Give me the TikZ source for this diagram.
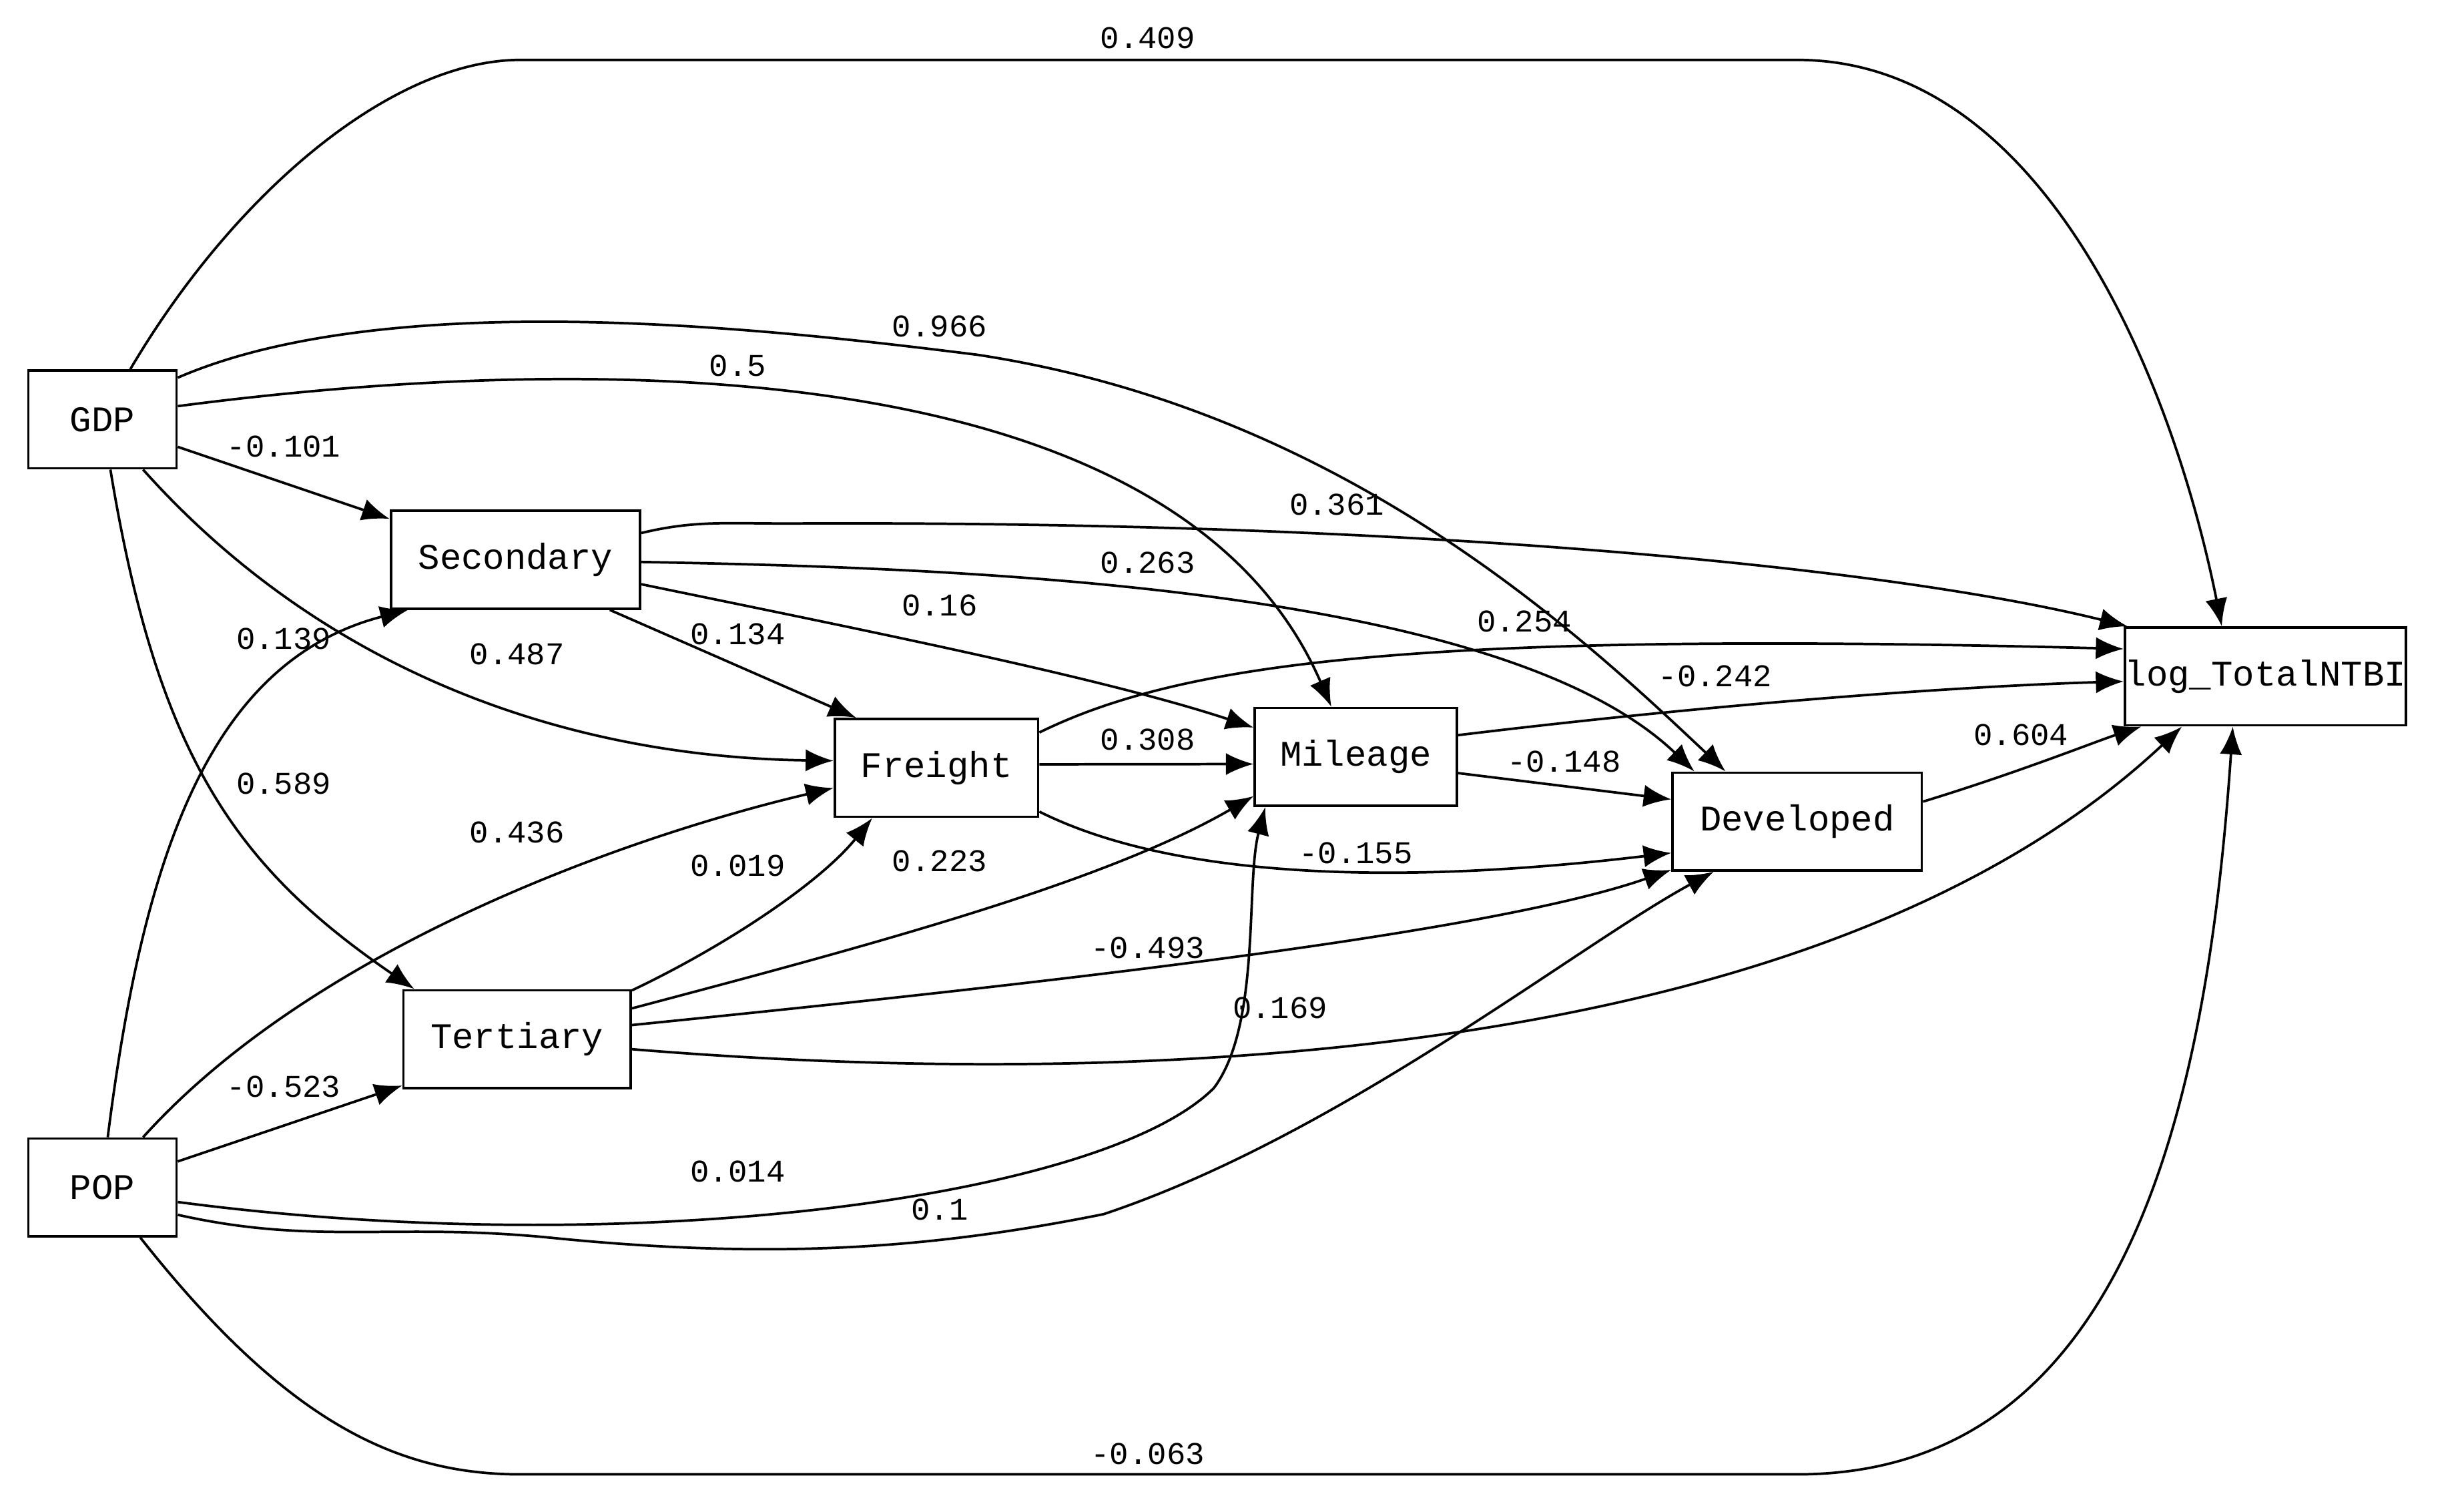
\documentclass[tikz,border=0pt]{standalone}
\usepackage{fontspec}
\setmainfont{Liberation Mono}
\usetikzlibrary{arrows.meta}
\tikzset{
  box/.style={draw, line width=0.45pt, inner sep=0pt, minimum height=0.62cm, font=\fontsize{6.5}{8}\selectfont},
  lbl/.style={inner sep=0pt, font=\fontsize{5.7}{7}\selectfont},
  edge/.style={line width=0.45pt, -{Latex[length=5pt,width=4pt]}},
}
\begin{document}
\begin{tikzpicture}[x=0.01cm, y=-0.01cm]
\useasboundingbox (0,0) rectangle (1563,946);

% variables
\node[box, minimum width=0.94cm] (GDP) at (65,266) {GDP};
\node[box, minimum width=0.94cm] (POP) at (65,753) {POP};
\node[box, minimum width=1.58cm] (Secondary) at (327,355) {Secondary};
\node[box, minimum width=1.44cm] (Tertiary) at (328,659) {Tertiary};
\node[box, minimum width=1.29cm] (Freight) at (594,487) {Freight};
\node[box, minimum width=1.28cm] (Mileage) at (860,480) {Mileage};
\node[box, minimum width=1.58cm] (Developed) at (1140,521) {Developed};
\node[box, minimum width=1.73cm] (NTBI) at (1437,429) {log\_TotalNTBI};

% paths from GDP
\draw[edge] (GDP.61) .. controls (150,120) and (250,38) .. (330,38) -- (1140,38) .. controls (1300,38) and (1380,250) .. (NTBI.131);
\draw[edge] (GDP.29) .. controls (250,180) and (500,210) .. (620,225) .. controls (850,260) and (1000,400) .. (Developed.145);
\draw[edge] (GDP.10) .. controls (400,220) and (750,230) .. (Mileage.116);
\draw[edge] (GDP.-20) -- (Secondary.162);
\draw[edge] (GDP.-51) .. controls (200,420) and (350,480) .. (Freight.176);
\draw[edge] (GDP.-81) .. controls (100,480) and (150,550) .. (Tertiary.154);

% paths from POP
\draw[edge] (POP.84) .. controls (90,550) and (130,420) .. (Secondary.205);
\draw[edge] (POP.51) .. controls (200,600) and (400,530) .. (Freight.191);
\draw[edge] (POP.19) -- (Tertiary.202);
\draw[edge] (POP.-11) .. controls (400,800) and (700,760) .. (770,690) .. controls (800,650) and (790,560) .. (Mileage.209);
\draw[edge] (POP.-20) .. controls (200,790) and (250,775) .. (350,785) .. controls (500,800) and (600,790) .. (700,770) .. controls (850,720) and (1000,600) .. (Developed.211);
\draw[edge] (POP.-53) .. controls (180,900) and (250,935) .. (330,935) -- (1140,935) .. controls (1350,935) and (1400,700) .. (NTBI.237);

% paths from Secondary and Tertiary
\draw[edge] (Secondary.12) .. controls (440,330) and (460,332) .. (500,332) .. controls (900,330) and (1200,360) .. (NTBI.160);
\draw[edge] (Secondary.-1) .. controls (600,360) and (950,370) .. (Developed.154);
\draw[edge] (Secondary.-11) .. controls (550,400) and (700,430) .. (Mileage.164);
\draw[edge] (Secondary.-28) -- (Freight.148);
\draw[edge] (Tertiary.23) .. controls (460,600) and (520,560) .. (Freight.218);
\draw[edge] (Tertiary.15) .. controls (550,600) and (700,560) .. (Mileage.201);
\draw[edge] (Tertiary.7) .. controls (700,620) and (950,590) .. (Developed.201);
\draw[edge] (Tertiary.-5) .. controls (700,690) and (1150,680) .. (NTBI.211);

% paths from mediators
\draw[edge] (Freight.19) .. controls (750,420) and (900,400) .. (NTBI.169);
\draw[edge] (Freight.2) -- (Mileage.184);
\draw[edge] (Freight.-23) .. controls (750,560) and (900,560) .. (Developed.194);
\draw[edge] (Mileage.12) .. controls (1100,445) and (1250,435) .. (NTBI.182);
\draw[edge] (Mileage.-9) -- (Developed.170);
\draw[edge] (Developed.9) .. controls (1280,490) and (1330,470) .. (NTBI.202);

% coefficients
\node[lbl] (l1) at (728,24) {0.409};
\node[lbl] (l2) at (596,207) {0.966};
\node[lbl] (l3) at (468,232) {0.5};
\node[lbl] (l4) at (180,283) {-0.101};
\node[lbl] (l5) at (328,415) {0.487};
\node[lbl] (l6) at (180,497) {0.589};
\node[lbl] (l7) at (180,405) {0.139};
\node[lbl] (l8) at (328,528) {0.436};
\node[lbl] (l9) at (180,689) {-0.523};
\node[lbl] (l10) at (468,743) {0.014};
\node[lbl] (l11) at (596,767) {0.1};
\node[lbl] (l12) at (728,922) {-0.063};
\node[lbl] (l13) at (848,320) {0.361};
\node[lbl] (l14) at (728,357) {0.263};
\node[lbl] (l15) at (596,384) {0.16};
\node[lbl] (l16) at (468,402) {0.134};
\node[lbl] (l17) at (468,549) {0.019};
\node[lbl] (l18) at (596,546) {0.223};
\node[lbl] (l19) at (728,601) {-0.493};
\node[lbl] (l20) at (812,639) {0.169};
\node[lbl] (l21) at (967,394) {0.254};
\node[lbl] (l22) at (728,469) {0.308};
\node[lbl] (l23) at (860,541) {-0.155};
\node[lbl] (l24) at (1088,429) {-0.242};
\node[lbl] (l25) at (992,483) {-0.148};
\node[lbl] (l26) at (1282,466) {0.604};
\end{tikzpicture}
\end{document}
